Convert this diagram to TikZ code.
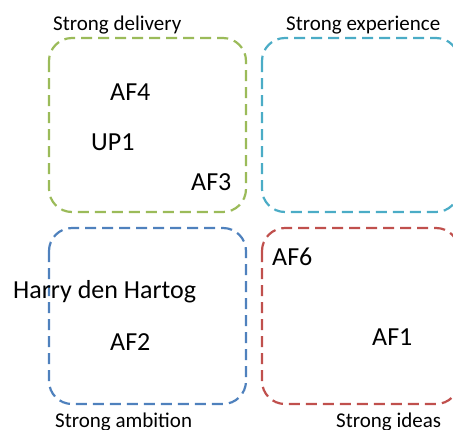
\documentclass[tikz,border=0pt]{standalone}
\usepackage{fontspec}
\setmainfont{Carlito}
\usepackage{tikz}
\usetikzlibrary{positioning}
\definecolor{delivery}{HTML}{9BBB59}
\definecolor{experience}{HTML}{4BACC6}
\definecolor{ambition}{HTML}{4F81BD}
\definecolor{ideas}{HTML}{C0504D}

\begin{document}
\begin{tikzpicture}[x=1pt, y=-1pt,
    quad/.style={line width=2.2pt, dash pattern=on 11pt off 6pt, rounded corners=23pt},
    title/.style={anchor=base west, inner sep=0pt, font=\fontsize{21}{25}\selectfont},
    person/.style={anchor=base west, inner sep=0pt, font=\fontsize{26}{31}\selectfont}]
    \useasboundingbox (0,0) rectangle (453,429);
    % the four quadrants
    \draw[quad, draw=delivery] (49,38) rectangle (246,212);
    \draw[quad, draw=experience] (262,38) rectangle (459,212);
    \draw[quad, draw=ambition] (49,228) rectangle (246,404);
    \draw[quad, draw=ideas] (262,228) rectangle (459,404);
    % quadrant titles
    \node[title] (tdelivery) at (53,30) {Strong delivery};
    \node[title] (texperience) at (286,30) {Strong experience};
    \node[title] (tambition) at (55,427) {Strong ambition};
    \node[title] (tideas) at (336,427) {Strong ideas};
    % people
    \node[person] (af4) at (110,100) {AF4};
    \node[person] (up1) at (91,150) {UP1};
    \node[person] (af3) at (191,190) {AF3};
    \node[person] (hdh) at (13,298) {Harry den Hartog};
    \node[person] (af2) at (110,350) {AF2};
    \node[person] (af6) at (272,265) {AF6};
    \node[person] (af1) at (372,345) {AF1};
\end{tikzpicture}
\end{document}
